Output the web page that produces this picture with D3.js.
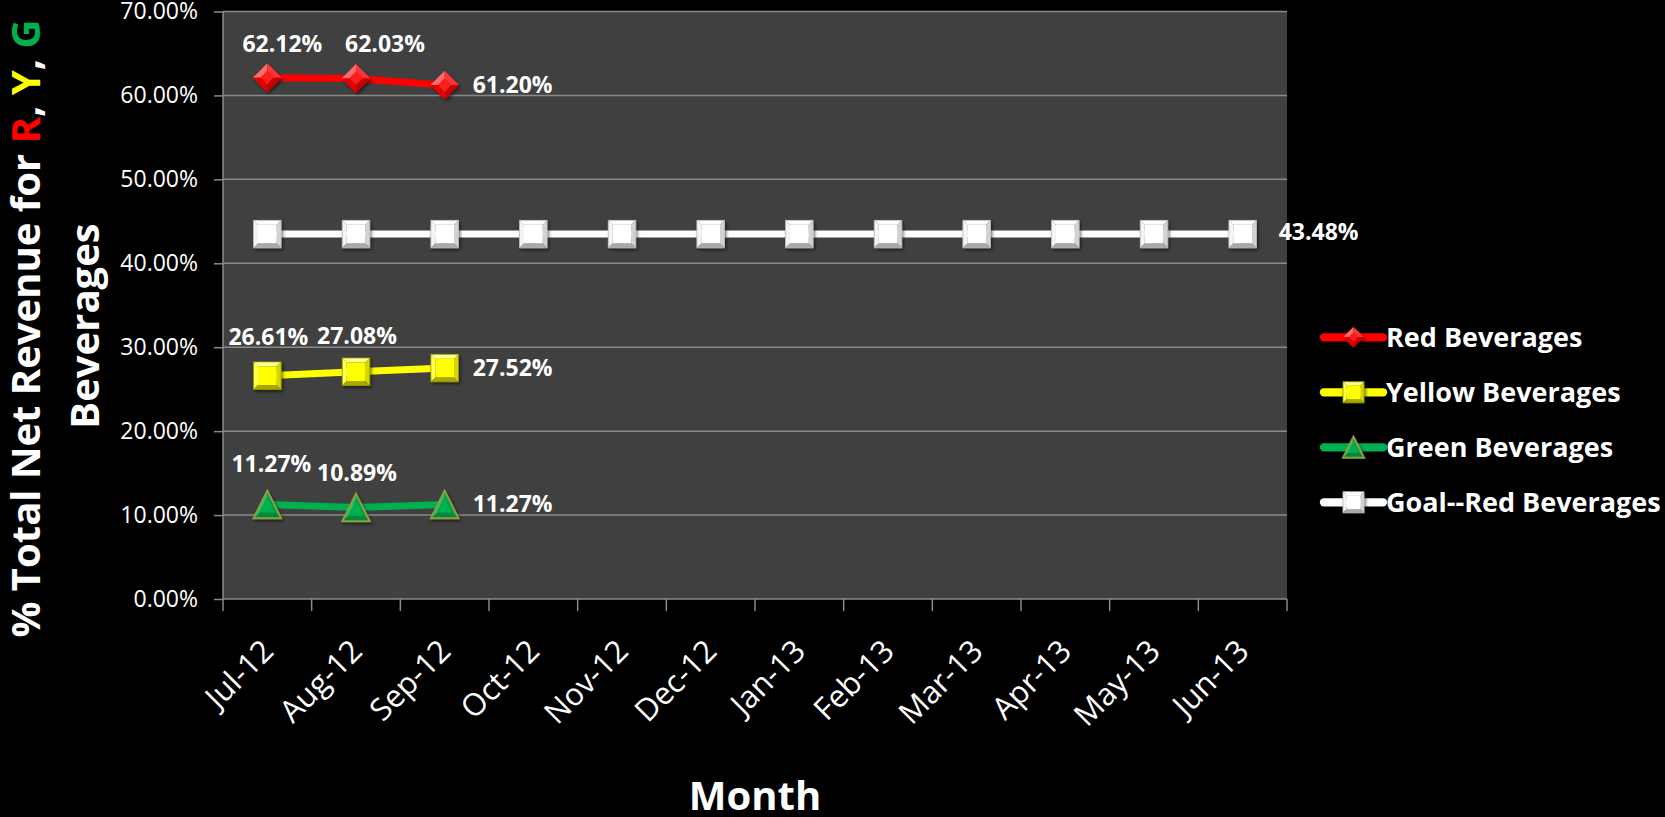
<!DOCTYPE html>
<html>
<head>
<meta charset="utf-8">
<script src="https://cdn.jsdelivr.net/npm/d3@7"></script>
<style>
    body { margin: 0; background: #000; }
    svg { display: block; font-family: "Open Sans", "Noto Sans", sans-serif; }
</style>
</head>
<body>
<div id="chart"></div>
<script>
const months = ["Jul-12", "Aug-12", "Sep-12", "Oct-12", "Nov-12", "Dec-12",
    "Jan-13", "Feb-13", "Mar-13", "Apr-13", "May-13", "Jun-13"];
const redValues = [62.12, 62.03, 61.20];
const yellowValues = [26.61, 27.08, 27.52];
const greenValues = [11.27, 10.89, 11.27];
const goalValues = [43.48, 43.48, 43.48, 43.48, 43.48, 43.48,
    43.48, 43.48, 43.48, 43.48, 43.48, 43.48];
const yTicks = [0, 10, 20, 30, 40, 50, 60, 70];
const seriesNames = ["Red Beverages", "Yellow Beverages", "Green Beverages", "Goal--Red Beverages"];

// which points get a label and where
const labelPlacement = {
    "Red Beverages": ["above", "above", "right"],
    "Yellow Beverages": ["above", "above", "right"],
    "Green Beverages": ["above", "above", "right"],
    "Goal--Red Beverages": [null, null, null, null, null, null, null, null, null, null, null, "right"]
};
// small hand nudges (labels were dragged in the original)
const labelNudge = {
    "Red Beverages": [[15, 2], [29, 2], [0, 0]],
    "Yellow Beverages": [[1, -3], [1, 0], [0, 0]],
    "Green Beverages": [[4, -4], [1, 1], [0, 0]],
    "Goal--Red Beverages": [[0, 0], [0, 0], [0, 0], [0, 0], [0, 0], [0, 0], [0, 0], [0, 0], [0, 0], [0, 0], [0, 0], [8, -2]]
};

const styles = {
    "Red Beverages": { color: "#ff0000", marker: "diamond" },
    "Yellow Beverages": { color: "#ffff00", marker: "square" },
    "Green Beverages": { color: "#00b050", marker: "triangle" },
    "Goal--Red Beverages": { color: "#ffffff", marker: "squareWhite" }
};

function drawMarker(g, type, s) {
    const h = s / 2;
    const b = s * 0.16;
    const poly = (pts, fill) => g.append("polygon")
        .attr("points", pts.map(p => p.join(",")).join(" "))
        .attr("fill", fill);

    if (type === "square" || type === "squareWhite") {
        const c = type === "square"
            ? { top: "#ffff9a", left: "#ffff55", right: "#d6d600", bottom: "#a8a800", mid: "#ffff00", line: "#9a9a00" }
            : { top: "#ffffff", left: "#f4f4f4", right: "#d2d2d2", bottom: "#a9a9a9", mid: "#ffffff", line: "#bfbfbf" };
        const i = h - b;
        poly([[-h, -h], [h, -h], [i, -i], [-i, -i]], c.top);
        poly([[-h, -h], [-i, -i], [-i, i], [-h, h]], c.left);
        poly([[h, -h], [h, h], [i, i], [i, -i]], c.right);
        poly([[-h, h], [-i, i], [i, i], [h, h]], c.bottom);
        poly([[-i, -i], [i, -i], [i, i], [-i, i]], c.mid);
        g.append("rect").attr("x", -h).attr("y", -h).attr("width", s).attr("height", s)
            .attr("fill", "none").attr("stroke", c.line).attr("stroke-width", 0.8);
    } else if (type === "diamond") {
        const i = h * 0.45;
        poly([[0, -h], [-h, 0], [-i, 0], [0, -i]], "#ff6a6a");
        poly([[0, -h], [h, 0], [i, 0], [0, -i]], "#ff3535");
        poly([[h, 0], [0, h], [0, i], [i, 0]], "#c40000");
        poly([[0, h], [-h, 0], [-i, 0], [0, i]], "#e60000");
        poly([[0, -i], [i, 0], [0, i], [-i, 0]], "#ff1a1a");
    } else if (type === "triangle") {
        const top = [0, -h], br = [h, h], bl = [-h, h];
        const i = 0.55;
        const itop = [0, -h * i], ibr = [h * i, h * (i + 0.05)], ibl = [-h * i, h * (i + 0.05)];
        poly([top, bl, ibl, itop], "#22c26a");
        poly([top, br, ibr, itop], "#00a54a");
        poly([bl, br, ibr, ibl], "#008a3c");
        poly([itop, ibr, ibl], "#00b050");
        g.append("polygon").attr("points", [top, br, bl].map(p => p.join(",")).join(" "))
            .attr("fill", "none").attr("stroke", "#8d9d40").attr("stroke-width", 2)
            .attr("stroke-linejoin", "miter");
    }
}

function linePlot() {
    const margin = { top: 11.5, right: 378, bottom: 218, left: 223 },
        width = 1665 - margin.left - margin.right,
        height = 817 - margin.top - margin.bottom;

    const svg = d3.select("#chart")
        .append("svg")
        .attr("width", 1665)
        .attr("height", 817);

    svg.append("rect").attr("width", 1665).attr("height", 817).attr("fill", "#000");

    const defs = svg.append("defs");
    defs.append("filter").attr("id", "shadow")
        .attr("x", "-30%").attr("y", "-30%").attr("width", "160%").attr("height", "160%")
        .append("feDropShadow")
        .attr("dx", 1.5).attr("dy", 2).attr("stdDeviation", 1.5)
        .attr("flood-color", "#000").attr("flood-opacity", 0.55);

    const g = svg.append("g")
        .attr("transform", `translate(${margin.left}, ${margin.top})`);

    const x = d3.scaleBand()
        .domain(months)
        .range([0, width]);

    const y = d3.scaleLinear()
        .domain([0, 70])
        .range([height, 0]);

    const cx = d => x(d) + x.bandwidth() / 2;

    // plot area
    g.append("rect")
        .attr("width", width)
        .attr("height", height)
        .attr("fill", "#404040");

    // gridlines
    g.append("g")
        .selectAll("line")
        .data(yTicks.filter(d => d > 0))
        .join("line")
        .attr("x1", 0)
        .attr("x2", width)
        .attr("y1", d => y(d))
        .attr("y2", d => y(d))
        .attr("stroke", "#8a8a8a")
        .attr("stroke-width", 1.5);

    // y axis
    const yAxis = g.append("g")
        .call(d3.axisLeft(y)
            .tickValues(yTicks)
            .tickSize(9)
            .tickPadding(16)
            .tickFormat(d => d3.format(".2f")(d) + "%"));
    yAxis.select(".domain").remove();
    yAxis.selectAll(".tick line").attr("stroke", "#8a8a8a").attr("stroke-width", 1.5);
    yAxis.selectAll(".tick text")
        .attr("fill", "#fff")
        .style("font-size", "23px")
        .style("font-family", "Open Sans");

    g.append("line")
        .attr("x1", 0).attr("x2", 0)
        .attr("y1", 0).attr("y2", height + 12)
        .attr("stroke", "#8a8a8a").attr("stroke-width", 1.5);

    // x axis
    g.append("line")
        .attr("x1", 0).attr("x2", width)
        .attr("y1", height).attr("y2", height)
        .attr("stroke", "#8a8a8a").attr("stroke-width", 1.5);

    g.append("g")
        .selectAll("line")
        .data(months.slice(1).map(m => x(m)).concat([width]))
        .join("line")
        .attr("x1", d => d).attr("x2", d => d)
        .attr("y1", height).attr("y2", height + 12)
        .attr("stroke", "#8a8a8a").attr("stroke-width", 1.5);

    g.append("g")
        .selectAll("text")
        .data(months)
        .join("text")
        .attr("transform", d => `translate(${cx(d) + 8}, ${height + 54}) rotate(-45)`)
        .attr("text-anchor", "end")
        .attr("fill", "#fff")
        .style("font-size", "31px")
        .text(d => d);

    // series
    const allSeries = [
        { name: seriesNames[0], values: redValues },
        { name: seriesNames[1], values: yellowValues },
        { name: seriesNames[2], values: greenValues },
        { name: seriesNames[3], values: goalValues }
    ];

    const line = d3.line()
        .x((d, i) => cx(months[i]))
        .y(d => y(d));

    allSeries.forEach(s => {
        const st = styles[s.name];
        g.append("path")
            .datum(s.values)
            .attr("d", line)
            .attr("fill", "none")
            .attr("stroke", st.color)
            .attr("stroke-width", 7)
            .attr("stroke-linejoin", "round");

        s.values.forEach((v, i) => {
            const size = st.marker === "diamond" ? 29 : 27.5;
            const mg = g.append("g")
                .attr("transform", `translate(${cx(months[i])}, ${y(v)})`)
                .attr("filter", "url(#shadow)");
            drawMarker(mg, st.marker, size);
        });
    });

    // data labels
    allSeries.forEach(s => {
        s.values.forEach((v, i) => {
            const place = labelPlacement[s.name][i];
            if (!place) return;
            const nudge = labelNudge[s.name][i];
            const px = cx(months[i]);
            const py = y(v);
            g.append("text")
                .attr("x", (place === "above" ? px : px + 28) + nudge[0])
                .attr("y", (place === "above" ? py - 28 : py + 8) + nudge[1])
                .attr("text-anchor", place === "above" ? "middle" : "start")
                .attr("fill", "#fff")
                .style("font-size", "23px")
                .style("font-weight", "bold")
                .text(d3.format(".2f")(v) + "%");
        });
    });

    // axis titles
    svg.append("text")
        .attr("x", margin.left + width / 2)
        .attr("y", 810)
        .attr("text-anchor", "middle")
        .attr("fill", "#fff")
        .style("font-size", "40px")
        .style("font-weight", "bold")
        .text("Month");

    const yTitle = svg.append("text")
        .attr("transform", "translate(39.5, 328.5) rotate(-90)")
        .attr("text-anchor", "middle")
        .attr("fill", "#fff")
        .style("font-size", "40px")
        .style("font-weight", "bold");
    yTitle.append("tspan").text("% Total Net Revenue for ");
    yTitle.append("tspan").attr("fill", "#ff0000").text("R");
    yTitle.append("tspan").text(", ");
    yTitle.append("tspan").attr("fill", "#ffff00").text("Y");
    yTitle.append("tspan").text(", ");
    yTitle.append("tspan").attr("fill", "#00b050").text("G");

    svg.append("text")
        .attr("transform", "translate(98.5, 326) rotate(-90)")
        .attr("text-anchor", "middle")
        .attr("fill", "#fff")
        .style("font-size", "40px")
        .style("font-weight", "bold")
        .text("Beverages");

    // legend
    const legend = svg.append("g")
        .attr("transform", "translate(1324, 337.3)");

    const item = legend.selectAll("g")
        .data(seriesNames)
        .join("g")
        .attr("transform", (d, i) => `translate(0, ${i * 55})`);

    item.append("line")
        .attr("x1", 0).attr("x2", 59)
        .attr("stroke", d => styles[d].color)
        .attr("stroke-width", 8.3)
        .attr("stroke-linecap", "round");

    item.each(function(d) {
        const mg = d3.select(this).append("g")
            .attr("transform", "translate(29.5, 0)")
            .attr("filter", "url(#shadow)");
        drawMarker(mg, styles[d].marker, 21);
    });

    item.append("text")
        .attr("x", 62)
        .attr("dy", "0.35em")
        .attr("fill", "#fff")
        .style("font-size", "27px")
        .style("font-weight", "bold")
        .text(d => d);
}

document.addEventListener("DOMContentLoaded", function(){
    linePlot();
});
</script>
</body>
</html>
